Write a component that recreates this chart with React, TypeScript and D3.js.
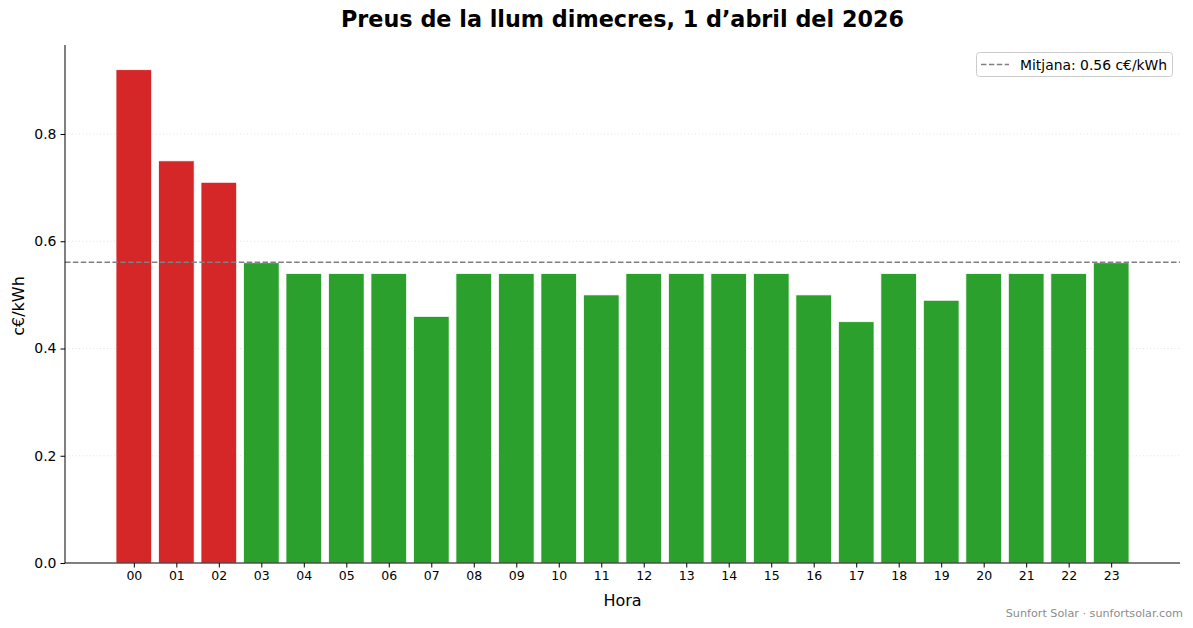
import * as d3 from 'd3';
import { useEffect, useRef } from 'react';

const hours = [
  '00', '01', '02', '03', '04', '05', '06', '07', '08', '09', '10', '11',
  '12', '13', '14', '15', '16', '17', '18', '19', '20', '21', '22', '23'
];
const prices = [
  0.92, 0.75, 0.71, 0.56, 0.54, 0.54, 0.54, 0.46, 0.54, 0.54, 0.54, 0.5,
  0.54, 0.54, 0.54, 0.54, 0.5, 0.45, 0.54, 0.49, 0.54, 0.54, 0.54, 0.56
];
const yTicks = [0, 0.2, 0.4, 0.6, 0.8];
const meanValue = 0.561;
const redCount = 3;

const W = 1193;
const H = 628;
const margin = { top: 45, right: 13, bottom: 65, left: 65 };
const FONT = '"DejaVu Sans", sans-serif';

export default function App() {
  const svgRef = useRef<SVGSVGElement>(null);

  useEffect(() => {
    const svg = d3.select(svgRef.current!);
    svg.selectAll('*').remove();

    const innerW = W - margin.left - margin.right;
    const innerH = H - margin.top - margin.bottom;

    const xScale = d3.scaleLinear().domain([-1.62, hours.length - 1 + 1.62]).range([0, innerW]);
    const yScale = d3.scaleLinear().domain([0, 0.966]).range([innerH, 0]);
    const barW = (xScale(1) - xScale(0)) * 0.84;

    const g = svg.append('g').attr('transform', `translate(${margin.left},${margin.top})`);

    // grid
    g.append('g')
      .selectAll('line')
      .data(yTicks.slice(1))
      .enter()
      .append('line')
      .attr('x1', 0)
      .attr('x2', innerW)
      .attr('y1', (d) => yScale(d))
      .attr('y2', (d) => yScale(d))
      .attr('stroke', '#dcdcdc')
      .attr('stroke-width', 0.8)
      .attr('stroke-dasharray', '1,2.5');

    // bars
    g.append('g')
      .selectAll('rect')
      .data(prices)
      .enter()
      .append('rect')
      .attr('x', (_, i) => xScale(i) - barW / 2)
      .attr('width', barW)
      .attr('y', (d) => yScale(d))
      .attr('height', (d) => yScale(0) - yScale(d))
      .attr('fill', (_, i) => (i < redCount ? '#d62728' : '#2ca02c'))
      .attr('stroke', '#ffffff')
      .attr('stroke-width', 0.8);

    // mean line
    g.append('line')
      .attr('x1', 0)
      .attr('x2', innerW)
      .attr('y1', yScale(meanValue))
      .attr('y2', yScale(meanValue))
      .attr('stroke', '#808080')
      .attr('stroke-width', 1.5)
      .attr('stroke-dasharray', '5.5,2.4');

    // x axis
    g.append('g')
      .attr('transform', `translate(0,${innerH})`)
      .call(
        d3
          .axisBottom(xScale)
          .tickValues(hours.map((_, i) => i))
          .tickFormat((d) => hours[d as number])
          .tickSize(4.5)
          .tickPadding(4)
      )
      .call((ax) => {
        ax.select('.domain').attr('d', `M0,0H${innerW}`).attr('stroke', '#000').attr('stroke-width', 1);
        ax.selectAll('.tick line').attr('stroke', '#000');
        ax.selectAll('.tick text').attr('font-family', FONT).attr('font-size', '12.5px').attr('fill', '#000');
      });

    // y axis
    g.append('g')
      .call(
        d3
          .axisLeft(yScale)
          .tickValues(yTicks)
          .tickFormat(d3.format('.1f'))
          .tickSize(4.5)
          .tickPadding(4)
      )
      .call((ax) => {
        ax.select('.domain').attr('d', `M0,${innerH}V0`).attr('stroke', '#000').attr('stroke-width', 1);
        ax.selectAll('.tick line').attr('stroke', '#000');
        ax.selectAll('.tick text').attr('font-family', FONT).attr('font-size', '14px').attr('fill', '#000');
      });

    // title
    svg
      .append('text')
      .attr('x', margin.left + innerW / 2)
      .attr('y', 27)
      .attr('text-anchor', 'middle')
      .attr('font-family', FONT)
      .attr('font-weight', 'bold')
      .attr('font-size', '22.3px')
      .text('Preus de la llum dimecres, 1 d\u2019abril del 2026');

    // axis labels
    svg
      .append('text')
      .attr('x', margin.left + innerW / 2)
      .attr('y', 606)
      .attr('text-anchor', 'middle')
      .attr('font-family', FONT)
      .attr('font-size', '16px')
      .text('Hora');

    svg
      .append('text')
      .attr('transform', `translate(23.5,${margin.top + innerH / 2 + 2}) rotate(-90)`)
      .attr('text-anchor', 'middle')
      .attr('font-family', FONT)
      .attr('font-size', '16px')
      .text('c€/kWh');

    // legend
    const lg = svg.append('g').attr('transform', `translate(976,52)`);
    lg.append('rect')
      .attr('x', 0.5)
      .attr('y', 0.5)
      .attr('width', 196)
      .attr('height', 24)
      .attr('rx', 3)
      .attr('fill', '#ffffff')
      .attr('fill-opacity', 0.8)
      .attr('stroke', '#cccccc');
    lg.append('line')
      .attr('x1', 5)
      .attr('x2', 33)
      .attr('y1', 12.5)
      .attr('y2', 12.5)
      .attr('stroke', '#808080')
      .attr('stroke-width', 1.5)
      .attr('stroke-dasharray', '5.5,2.4');
    lg.append('text')
      .attr('x', 44)
      .attr('y', 17.5)
      .attr('font-family', FONT)
      .attr('font-size', '13.9px')
      .text(`Mitjana: ${meanValue.toFixed(2)} c€/kWh`);

    // footer
    svg
      .append('text')
      .attr('x', 1183)
      .attr('y', 617)
      .attr('text-anchor', 'end')
      .attr('font-family', FONT)
      .attr('font-size', '11.2px')
      .attr('fill', '#8c8c8c')
      .text('Sunfort Solar · sunfortsolar.com');
  }, []);

  return (
    <svg
      ref={svgRef}
      width={W}
      height={H}
      style={{ position: 'absolute', left: 0, top: 0, background: '#fff' }}
    />
  );
}
